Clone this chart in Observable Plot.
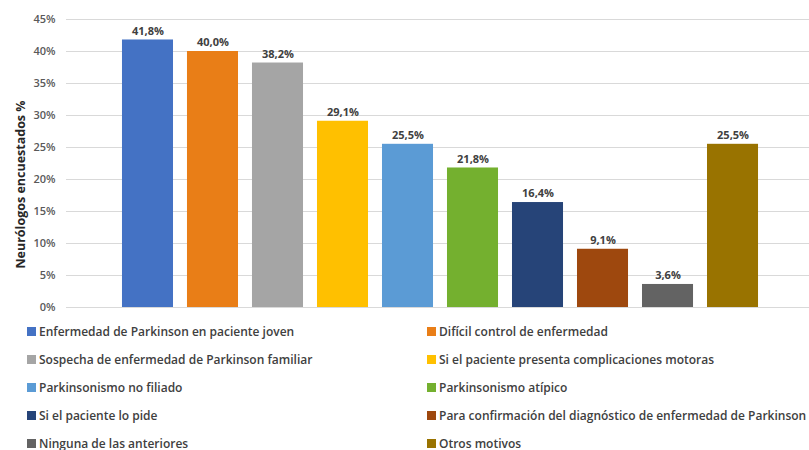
<!DOCTYPE html>
<html><head><meta charset="utf-8">
<script src="https://cdn.jsdelivr.net/npm/d3@7"></script>
<script src="https://cdn.jsdelivr.net/npm/@observablehq/plot@0.6"></script>
<style>
body{margin:0;background:#fff;font-family:"Open Sans",sans-serif;}
#legend{display:grid;grid-template-columns:400px 400px;row-gap:0;margin-left:27px;margin-top:-3px;}
.item{display:flex;align-items:center;height:28px;font-size:12px;font-weight:600;color:#404040;white-space:nowrap;}
.sw{width:9px;height:9px;margin-right:3px;flex:none;}
</style></head>
<body>
<div id="chart"></div>
<div id="legend"></div>
<script>
const categories = [
  "Enfermedad de Parkinson en paciente joven",
  "Difícil control de enfermedad",
  "Sospecha de enfermedad de Parkinson familiar",
  "Si el paciente presenta complicaciones motoras",
  "Parkinsonismo no filiado",
  "Parkinsonismo atípico",
  "Si el paciente lo pide",
  "Para confirmación del diagnóstico de enfermedad de Parkinson",
  "Ninguna de las anteriores",
  "Otros motivos"
];
const values = [41.8, 40.0, 38.2, 29.1, 25.5, 21.8, 16.4, 9.1, 3.6, 25.5];
const colors = ["#4472C4","#E97E17","#A5A5A5","#FFC000","#5B9BD5","#74B02F","#264478","#9E480E","#636363","#997300"];
const yTicks = [0,5,10,15,20,25,30,35,40,45];
const yLabel = "Neurólogos encuestados %";

const data = categories.map((c,i)=>({cat:c, v:values[i]}));
const fmt = v => v.toFixed(1).replace(".", ",") + "%";

const chart = Plot.plot({
  width: 809, height: 320,
  marginLeft: 66, marginRight: 0, marginTop: 19, marginBottom: 13,
  style: {fontFamily: "'Open Sans', sans-serif", fontSize: "11px", color: "#595959"},
  x: {domain: categories, range: [108, 772], padding: 0.215, round: false, axis: null},
  y: {domain: [0, 45], ticks: yTicks, tickFormat: d => d + "%", label: null},
  color: {domain: categories, range: colors},
  marks: [
    Plot.ruleY(yTicks, {stroke: "#d9d9d9", strokeWidth: 1}),
    Plot.axisY({ticks: yTicks, tickFormat: d => d + "%", tickSize: 0, tickPadding: 11, fontWeight: 600, fill: "#595959", label: null}),
    Plot.barY(data, {x: "cat", y: "v", fill: "cat"}),
    Plot.text(data, {x: "cat", y: "v", text: d => fmt(d.v), dy: -9, fontWeight: 700, fill: "#404040", fontSize: 11}),
    Plot.text([yLabel], {frameAnchor: "left", text: d => d, rotate: -90, dx: -46, dy: 21, fontWeight: 700, fontSize: 12.5, fill: "#262626", textAnchor: "middle"})
  ]
});
document.getElementById("chart").append(chart);

const lg = document.getElementById("legend");
categories.forEach((c,i)=>{
  const d = document.createElement("div"); d.className="item";
  const s = document.createElement("span"); s.className="sw"; s.style.background = colors[i];
  d.append(s, document.createTextNode(c));
  lg.append(d);
});
</script>
</body></html>
